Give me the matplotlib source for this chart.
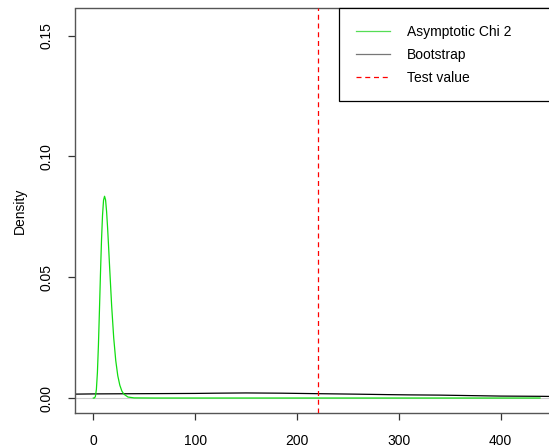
import numpy as np
import matplotlib
matplotlib.use('Agg')
import matplotlib.pyplot as plt

plt.rcParams['font.family'] = ['Liberation Sans', 'DejaVu Sans']

# asymptotic chi 2 density
chi_x = [0, 1, 2, 3, 4, 5, 6, 7, 8, 9, 10, 11, 12, 13, 14, 15, 16, 18, 20,
         22, 24, 26, 28, 30, 34, 40, 60, 100, 200, 300, 438.6]
chi_y = [0.0, 0.00002, 0.0006, 0.0036, 0.0106, 0.0220, 0.0364, 0.0515, 0.0651,
         0.0755, 0.0818, 0.0835, 0.0820, 0.0772, 0.0704, 0.0624, 0.0540, 0.0380,
         0.0249, 0.0155, 0.0092, 0.0053, 0.0029, 0.0016, 0.0004, 0.00005,
         0.0, 0.0, 0.0, 0.0, 0.0]

# bootstrap density (very flat)
boot_x = [-20, 0, 50, 100, 120, 150, 185, 220, 258, 290, 310, 340, 370, 400, 440, 480]
boot_y = [0.0016, 0.0017, 0.0018, 0.0019, 0.0020, 0.0021, 0.0020, 0.0018, 0.0016,
          0.0014, 0.0013, 0.0012, 0.0010, 0.0008, 0.0007, 0.0005]

test_value = 221
x_ticks = [0, 100, 200, 300, 400]
y_ticks = [0.00, 0.05, 0.10, 0.15]
legend_labels = ['Asymptotic Chi 2', 'Bootstrap', 'Test value']

W, H = 549, 448
fig = plt.figure(figsize=(W / 100, H / 100), dpi=100)
# plot region runs past the right edge of the picture
ax = fig.add_axes([74.5 / W, (H - 413) / H, (582.2 - 74.5) / W, (413 - 8.5) / H])

ax.axhline(0, color='#cccccc', lw=0.8, zorder=1)
ax.plot(boot_x, boot_y, color='black', lw=0.9, label=legend_labels[1], zorder=2)
ax.plot(chi_x, chi_y, color='#11dd11', lw=0.9, label=legend_labels[0], zorder=3)
ax.axvline(test_value, color='red', lw=0.9, linestyle=(0, (4, 3)),
           label=legend_labels[2], zorder=4)

ax.set_xlim(-18.5, 480)
ax.set_ylim(-0.0062, 0.1612)
ax.set_xticks(x_ticks)
ax.set_xticklabels([str(v) for v in x_ticks])
ax.set_yticks(y_ticks)
ax.set_yticklabels(['%.2f' % v for v in y_ticks], rotation=90, va='center')
ax.tick_params(length=5, width=0.9, color='#333333', labelsize=10, pad=10)
ax.set_ylabel('Density', fontsize=10, labelpad=9)
for s in ax.spines.values():
    s.set_color('#555555')
    s.set_linewidth(1.0)

h, l = ax.get_legend_handles_labels()
order = [l.index(t) for t in legend_labels]
# legend box spans from x=339 px to the (hidden) right edge of the plot region
leg = ax.legend([h[i] for i in order], [l[i] for i in order],
                loc='upper left',
                bbox_to_anchor=(339.3 / W, 1 - 8.5 / H, (582.2 - 339.3) / W, 0),
                bbox_transform=fig.transFigure, borderaxespad=0, mode='expand',
                fancybox=False, framealpha=1, edgecolor='black', fontsize=10,
                handlelength=2.45, handletextpad=1.2, borderpad=1.2,
                labelspacing=0.63)
leg.get_frame().set_linewidth(0.9)
leg.get_lines()[0].set_color('#55dd55')
leg.get_lines()[1].set_color('#777777')

fig.savefig('out.png', dpi=100)
